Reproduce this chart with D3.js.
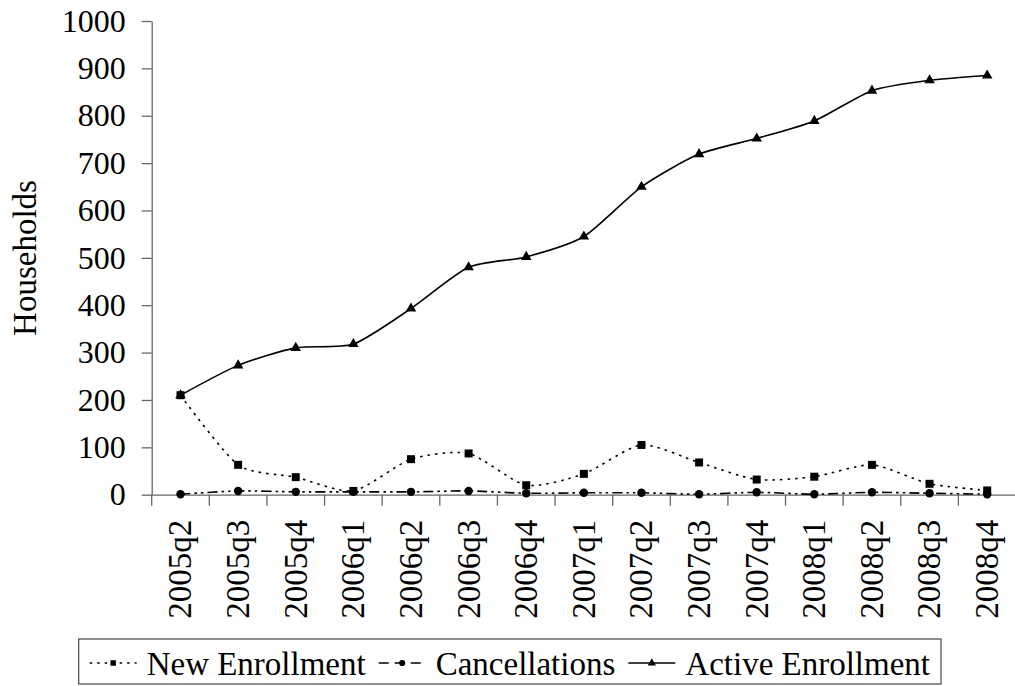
<!DOCTYPE html>
<html>
<head>
<meta charset="utf-8">
<script src="https://cdn.jsdelivr.net/npm/d3@7"></script>
</head>
<body>
<div id="chart"></div>
<script>
// quarters on the x axis
const quarters = ["2005q2", "2005q3", "2005q4", "2006q1", "2006q2", "2006q3", "2006q4",
                  "2007q1", "2007q2", "2007q3", "2007q4", "2008q1", "2008q2", "2008q3", "2008q4"];

// series
const newEnrollment = [210, 63, 37, 8, 75, 87, 20, 44, 105, 68, 32, 38, 63, 23, 9];
const cancellations = [1, 8, 6, 6, 6, 8, 3, 4, 4, 1, 5, 1, 5, 3, 1];
const activeEnrollment = [210, 273, 310, 318, 393, 480, 502, 545, 650, 719, 752, 789, 853, 875, 885];

const yTicks = [0, 100, 200, 300, 400, 500, 600, 700, 800, 900, 1000];
const seriesNames = ["New Enrollment", "Cancellations", "Active Enrollment"];

const W = 1015, H = 686;
const plot = {left: 151.7, right: 1016, top: 21, bottom: 494.7};
const fontSize = 33;
const serif = "Liberation Serif";

d3.select("body").style("margin", "0");

let svg = d3.select("#chart")
    .append("svg")
    .attr("width", W)
    .attr("height", H)
    .attr("font-family", serif)
    .style("display", "block");

let x = d3.scaleBand()
    .domain(quarters)
    .range([plot.left, plot.right])
    .padding(0);

let y = d3.scaleLinear()
    .domain([0, 1000])
    .range([plot.bottom, plot.top]);

let cx = (q) => x(q) + x.bandwidth() / 2;

/* Y axis */
svg.append("g")
    .attr("transform", `translate(${plot.left}, 0)`)
    .call(d3.axisLeft(y).tickValues(yTicks).tickFormat(d3.format("d"))
        .tickSize(10).tickPadding(16).tickSizeOuter(0))
    .attr("font-family", serif)
    .attr("font-size", 32)
    .call(g => g.select(".domain").attr("stroke", "#666").attr("stroke-width", 1.3))
    .call(g => g.selectAll(".tick line").attr("stroke", "#666").attr("stroke-width", 1.3))
    .call(g => g.selectAll(".tick text")
        .attr("fill", "#000")
        .attr("font-family", serif)
        .attr("font-size", 32));

/* X axis: labels from the band scale, ticks on the band edges */
let xAxis = svg.append("g")
    .attr("transform", `translate(0, ${plot.bottom})`)
    .call(d3.axisBottom(x).tickSize(0).tickSizeOuter(0))
    .attr("font-family", serif)
    .attr("font-size", fontSize);

xAxis.select(".domain").attr("stroke", "#666").attr("stroke-width", 1.3);
xAxis.selectAll(".tick text")
    .attr("fill", "#000")
    .attr("font-family", serif)
    .attr("font-size", fontSize)
    .attr("text-anchor", "end")
    .attr("transform", "rotate(-90)")
    .attr("x", -25)
    .attr("y", 0)
    .attr("dy", "0.33em");

xAxis.selectAll(".edge")
    .data(quarters)
    .join("line")
    .attr("class", "edge")
    .attr("x1", d => x(d))
    .attr("x2", d => x(d))
    .attr("y1", 0)
    .attr("y2", 11)
    .attr("stroke", "#666")
    .attr("stroke-width", 1.3);

/* Series */
const series = [
    {name: seriesNames[0], values: newEnrollment, dash: "2.5,5", marker: "square"},
    {name: seriesNames[1], values: cancellations, dash: "10,4,2.5,4,2.5,4", marker: "circle"},
    {name: seriesNames[2], values: activeEnrollment, dash: null, marker: "triangle"}
];

let line = d3.line()
    .x((d, i) => cx(quarters[i]))
    .y(d => y(d))
    .curve(d3.curveCardinal.tension(0.3));

let symbolFor = (m) => {
    if (m === "square") return d3.symbol(d3.symbolSquare, 64);
    if (m === "circle") return d3.symbol(d3.symbolCircle, 56);
    return d3.symbol(d3.symbolTriangle, 48);
};

let lines = svg.append("g");
series.forEach(s => {
    lines.append("path")
        .datum(s.values)
        .attr("fill", "none")
        .attr("stroke", "#000")
        .attr("stroke-width", 1.6)
        .attr("stroke-dasharray", s.dash)
        .attr("d", line);
});

series.forEach(s => {
    lines.append("g")
        .selectAll("path")
        .data(s.values)
        .join("path")
        .attr("transform", (d, i) => `translate(${cx(quarters[i])}, ${y(d)})`)
        .attr("d", symbolFor(s.marker)())
        .attr("fill", "#000");
});

/* Y axis label */
svg.append("text")
    .attr("transform", `translate(36, 258) rotate(-90)`)
    .attr("text-anchor", "middle")
    .attr("font-family", serif)
    .attr("font-size", fontSize)
    .text("Households");

/* Legend */
const legend = {right: 941, top: 639, bottom: 684, pad: 11, sample: 47, gap: 10, sep: 13};
let lg = svg.append("g");
let box = lg.append("rect")
    .attr("y", legend.top)
    .attr("height", legend.bottom - legend.top)
    .attr("fill", "#fff")
    .attr("stroke", "#555")
    .attr("stroke-width", 1.3);

let items = lg.selectAll(".item")
    .data(series)
    .join("g")
    .attr("class", "item");

items.append("text")
    .attr("y", 675)
    .attr("font-family", serif)
    .attr("font-size", fontSize)
    .text(d => d.name);

let widths = [];
items.select("text").each(function () { widths.push(this.getComputedTextLength()); });
let total = legend.pad * 2 + d3.sum(widths) + series.length * (legend.sample + legend.gap) + (series.length - 1) * legend.sep;
let left = legend.right - total;
box.attr("x", left).attr("width", total);

let pos = left + legend.pad;
items.each(function (d, i) {
    let g = d3.select(this);
    let my = 663;
    g.insert("line", "text")
        .attr("x1", pos)
        .attr("x2", pos + legend.sample)
        .attr("y1", my)
        .attr("y2", my)
        .attr("stroke", "#000")
        .attr("stroke-width", 1.6)
        .attr("stroke-dasharray", d.marker === "circle" ? "10,6" : d.dash);
    g.append("path")
        .attr("transform", `translate(${pos + legend.sample / 2}, ${my})`)
        .attr("d", d3.symbol(d.marker === "square" ? d3.symbolSquare : d.marker === "circle" ? d3.symbolCircle : d3.symbolTriangle, 30)())
        .attr("fill", "#000");
    g.select("text").attr("x", pos + legend.sample + legend.gap);
    pos += legend.sample + legend.gap + widths[i] + legend.sep;
});
</script>
</body>
</html>
